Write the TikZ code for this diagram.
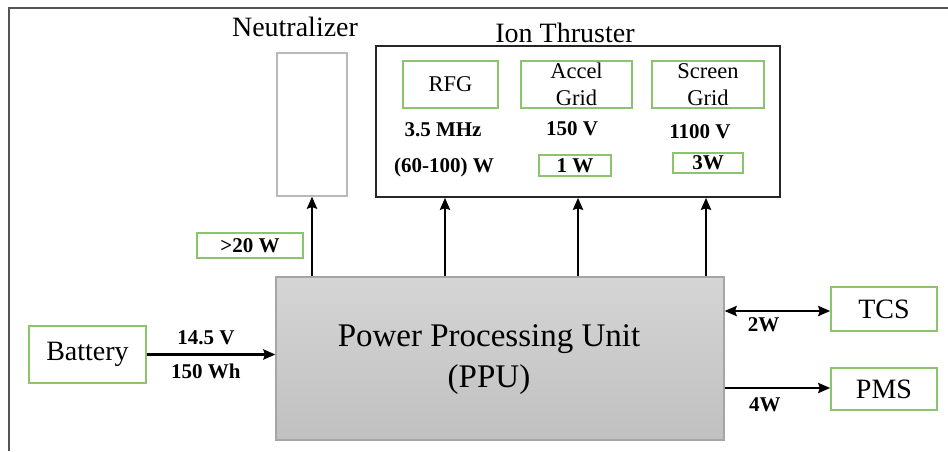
\documentclass[tikz,border=0pt]{standalone}
\usepackage{fontspec}
\setmainfont{Liberation Serif}
\usetikzlibrary{arrows.meta}
\definecolor{boxgreen}{RGB}{140,196,110}
\definecolor{neutgray}{RGB}{185,185,185}
\definecolor{ppuTop}{RGB}{213,213,213}
\definecolor{ppuBot}{RGB}{192,192,192}
\definecolor{ppuEdge}{RGB}{165,165,165}
\definecolor{framegray}{RGB}{85,85,85}
\tikzset{
  greenbox/.style={draw=boxgreen, line width=1.5pt, rectangle, inner sep=0pt, align=center},
  bigtxt/.style={font=\fontsize{28}{30}\selectfont},
  gridtxt/.style={font=\fontsize{22.5}{27}\selectfont},
  boldtxt/.style={font=\fontsize{21}{24}\selectfont\bfseries, inner sep=0pt},
  tip/.style={Stealth[length=12pt,width=10pt,inset=1.5pt]},
  arr/.style={line width=2.8pt, -{Stealth[length=12pt,width=10pt,inset=1.5pt]}},
  dblarr/.style={line width=2.8pt, {Stealth[length=12pt,width=10pt,inset=1.5pt]}-{Stealth[length=12pt,width=10pt,inset=1.5pt]}}
}
\begin{document}
\begin{tikzpicture}[x=1pt,y=-1pt]
\useasboundingbox (0,0) rectangle (948,451);
% outer frame (partial, as in the reference)
\draw[framegray, line width=2pt] (9,451) -- (9,8) -- (948,8);

% Neutralizer
\node[bigtxt, inner sep=0pt] (neutlabel) at (295,27) {Neutralizer};
\node[draw=neutgray, line width=1.2pt, rectangle, minimum width=70pt, minimum height=143pt, inner sep=0pt] (neut) at (312,124.5) {};

% Ion thruster
\node[bigtxt, inner sep=0pt] (ionlabel) at (565,33) {Ion Thruster};
\node[draw=black!85, line width=1.5pt, rectangle, minimum width=404pt, minimum height=151pt, inner sep=0pt] (ion) at (578,121.5) {};
\node[greenbox, gridtxt, minimum width=95pt, minimum height=47pt] (rfg) at (450.5,84.5) {RFG};
\node[greenbox, gridtxt, minimum width=111pt, minimum height=47pt] (accel) at (576.5,84.5) {Accel\\Grid};
\node[greenbox, gridtxt, minimum width=112pt, minimum height=47pt] (screen) at (708,84.5) {Screen\\Grid};
\node[boldtxt] (mhz) at (443,130) {3.5 MHz};
\node[boldtxt] (rfgw) at (444,167) {(60-100) W};
\node[boldtxt] (v150) at (572,129) {150 V};
\node[greenbox, boldtxt, minimum width=72pt, minimum height=21pt] (w1) at (575,165.5) {1 W};
\node[boldtxt] (v1100) at (700,132) {1100 V};
\node[greenbox, boldtxt, minimum width=70pt, minimum height=20pt] (w3) at (708,163) {3W};

% >20 W
\node[greenbox, boldtxt, minimum width=106pt, minimum height=25pt] (w20) at (250,245.5) {>20 W};

% PPU
\node[draw=ppuEdge, line width=1.2pt, rectangle, top color=ppuTop, bottom color=ppuBot, minimum width=448pt, minimum height=163pt, inner sep=0pt] (ppu) at (500,358.5) {};
\node[font=\fontsize{33}{41}\selectfont, align=center, inner sep=0pt] (ppulabel) at (489,360) {Power Processing Unit\\(PPU)};

% Battery, TCS, PMS
\node[greenbox, bigtxt, minimum width=117pt, minimum height=57pt] (battery) at (87.5,354.5) {Battery};
\node[greenbox, bigtxt, minimum width=106pt, minimum height=44pt] (tcs) at (884,309) {TCS};
\node[greenbox, bigtxt, minimum width=106pt, minimum height=42pt] (pms) at (884,389) {PMS};

% Connectors up
\draw[arr] (neut.south |- ppu.north) -- (neut.south);
\draw[arr] ([xshift=-5.5pt]rfg.south |- ppu.north) -- ([xshift=-5.5pt]rfg.south |- ion.south);
\draw[arr] ([xshift=1.5pt]accel.south |- ppu.north) -- ([xshift=1.5pt]accel.south |- ion.south);
\draw[arr] ([xshift=-2pt]screen.south |- ppu.north) -- ([xshift=-2pt]screen.south |- ion.south);

% Battery to PPU
\draw[arr] (battery.east) -- (battery.east -| ppu.west)
  node[boldtxt, pos=0.46, yshift=17pt] (v145) {14.5 V}
  node[boldtxt, pos=0.46, yshift=-17pt] (wh150) {150 Wh};

% PPU to TCS / PMS
\draw[dblarr] ([yshift=-2pt]ppu.east |- tcs.west) -- ([yshift=-2pt]tcs.west)
  node[boldtxt, pos=0.37, yshift=-14pt] (w2) {2W};
\draw[arr] ([yshift=1pt]ppu.east |- pms.west) -- ([yshift=1pt]pms.west)
  node[boldtxt, pos=0.38, yshift=-17pt] (w4) {4W};
\end{tikzpicture}
\end{document}
